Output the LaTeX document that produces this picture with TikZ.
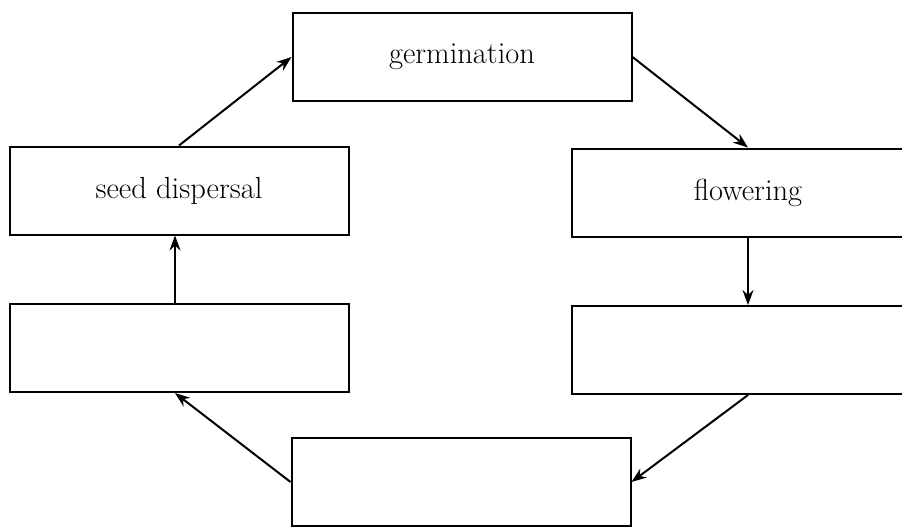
\documentclass[tikz,border=0pt]{standalone}
\usetikzlibrary{arrows.meta}
\tikzset{
  stage/.style={draw,line width=2pt,inner sep=0pt,minimum width=339pt,minimum height=88pt,font=\fontsize{30.5}{36}\selectfont},
  widestage/.style={stage,minimum width=352pt},
  flow/.style={-{Stealth[length=15pt,width=11pt]},line width=2pt}
}
\begin{document}
\begin{tikzpicture}[x=1pt,y=-1pt]
        \useasboundingbox (0,0) rectangle (902,528);
        \clip (0,0) rectangle (902,528);
        %\draw[very thin,color=gray] (0,0) grid[step=50] (902,528);
        \node[stage] (germ) at (462,57) {germination};
        \node[stage] (seed) at (179,190.5) {seed dispersal};
        \node[widestage] (flower) at (748,192.5) {flowering};
        \node[stage] (left) at (179,348) {};
        \node[widestage] (right) at (748,350) {};
        \node[stage] (bottom) at (461,482) {};
        \draw[flow] (seed.north) -- (germ.west);
        \draw[flow] (germ.east) -- (flower.north);
        \draw[flow] (flower.south) -- (right.north);
        \draw[flow] (right.south) -- (bottom.east);
        \draw[flow] (bottom.west) -- ([xshift=-4pt]left.south);
        \draw[flow] ([xshift=-4pt]left.north) -- ([xshift=-4pt]seed.south);
    \end{tikzpicture}
\end{document}
